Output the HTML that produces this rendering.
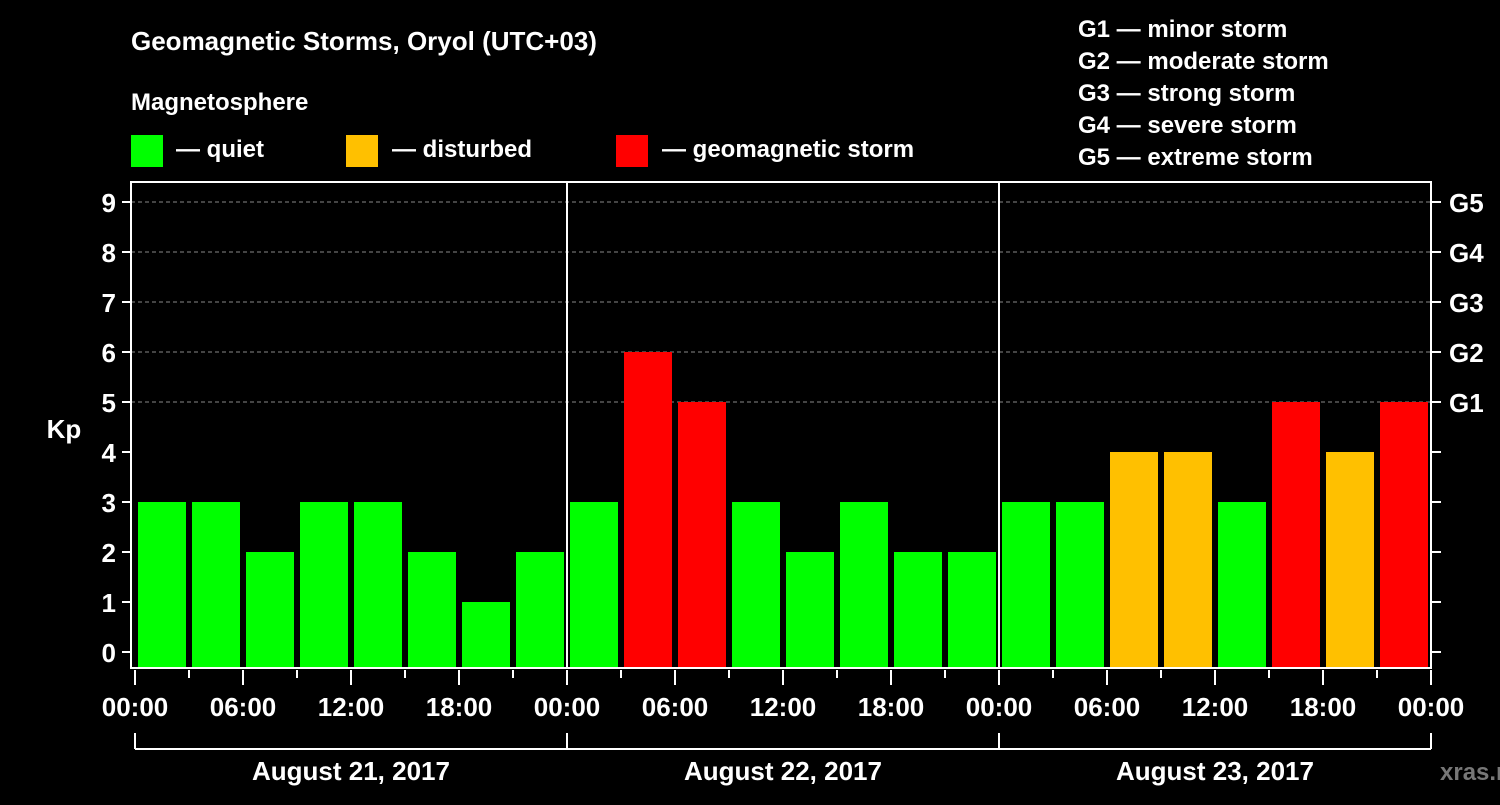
<!DOCTYPE html>
<html><head><meta charset="utf-8"><style>
body{margin:0;background:#000;width:1500px;height:800px;overflow:hidden}
svg text{font-family:"Liberation Sans",Arial,sans-serif;font-weight:bold;fill:#fff}
</style></head><body>
<svg id="c" width="1500" height="800">
<text x="131" y="50" font-size="26">Geomagnetic Storms, Oryol (UTC+03)</text>
<text x="131" y="110" font-size="24">Magnetosphere</text>
<rect x="131" y="135" width="32" height="32" fill="#00ff00"/>
<text x="176" y="157" font-size="24">— quiet</text>
<rect x="346" y="135" width="32" height="32" fill="#ffc000"/>
<text x="392" y="157" font-size="24">— disturbed</text>
<rect x="616" y="135" width="32" height="32" fill="#ff0000"/>
<text x="662" y="157" font-size="24">— geomagnetic storm</text>
<g font-size="24">
<text x="1078" y="37">G1 — minor storm</text>
<text x="1078" y="69">G2 — moderate storm</text>
<text x="1078" y="101">G3 — strong storm</text>
<text x="1078" y="133">G4 — severe storm</text>
<text x="1078" y="165">G5 — extreme storm</text>
</g>
<text x="64" y="438" font-size="26" text-anchor="middle">Kp</text>
<text x="1440" y="780" font-size="24" fill="#888" style="fill:#777">xras.ru</text>
<g id="g"></g>
</svg>
<script>
const kpValues=[3,3,2,3,3,2,1,2, 3,6,5,3,2,3,2,2, 3,3,4,4,3,5,4,5];
const dayLabels=["August 21, 2017","August 22, 2017","August 23, 2017"];
const hourLabels=["00:00","06:00","12:00","18:00"];
const kpTicks=[0,1,2,3,4,5,6,7,8,9];
const gLabels=["G1","G2","G3","G4","G5"];
const NS="http://www.w3.org/2000/svg";
const g=document.getElementById('g');
const X0=135,SLOT=54,L=131,R=1431,T=182,B=668;
const y=v=>652-50*v;
const x=i=>X0+SLOT*i;
function mk(t,a,txt){const e=document.createElementNS(NS,t);for(const k in a)e.setAttribute(k,a[k]);if(txt!==undefined)e.textContent=txt;g.appendChild(e);return e;}
// grid
kpTicks.forEach(v=>{
 if(v>=5){const e=mk('line',{x1:L,x2:R,y1:y(v),y2:y(v),stroke:'#888','stroke-dasharray':'4,3','stroke-width':1});
 
 }
 const t=mk('line',{x1:122,x2:L,y1:y(v),y2:y(v),stroke:'#fff','stroke-width':2});
 
 
 const t2=mk('line',{x1:R,x2:1441,y1:y(v),y2:y(v),stroke:'#fff','stroke-width':2});
 
 
 const l=mk('text',{x:116,y:y(v)+10,'font-size':26,'text-anchor':'end'},String(v));
 
 
});
gLabels.forEach((s,i)=>{
 const l=mk('text',{x:1449,y:y(5+i)+10,'font-size':26},s);
 
 
});
// bars
kpValues.forEach((v,i)=>{
 const c=v>=5?'#ff0000':(v>=4?'#ffc000':'#00ff00');
 const r=mk('rect',{x:x(i)+3,y:y(v),width:48,height:B-1-y(v),fill:c});
 
 
});
// frame
const f=mk('rect',{x:L,y:T,width:R-L,height:B-T,fill:'none',stroke:'#fff','stroke-width':2});


for(let d=1;d<3;d++){const s=mk('line',{x1:x(d*8),x2:x(d*8),y1:T,y2:B,stroke:'#fff','stroke-width':2});
 
 }
// x ticks
for(let h=0;h<=24;h++){
 const xx=x(h);
 const t=mk('line',{x1:xx,x2:xx,y1:B+2,y2:h%2?B+10:B+17,stroke:'#fff','stroke-width':2});
 
 
 if(h%2===0){const l=mk('text',{x:xx,y:716,'font-size':26,'text-anchor':'middle'},hourLabels[(h/2)%4]);
 
 }
}
// day brackets
const br=mk('line',{x1:x(0),x2:x(24),y1:749,y2:749,stroke:'#fff','stroke-width':2});


for(let d=0;d<=3;d++){const t=mk('line',{x1:x(d*8),x2:x(d*8),y1:733,y2:749,stroke:'#fff','stroke-width':2});
 
 }
dayLabels.forEach((s,d)=>{
 const l=mk('text',{x:x(d*8+4),y:780,'font-size':26,'text-anchor':'middle'},s);
 
 
});
</script>
</body></html>
